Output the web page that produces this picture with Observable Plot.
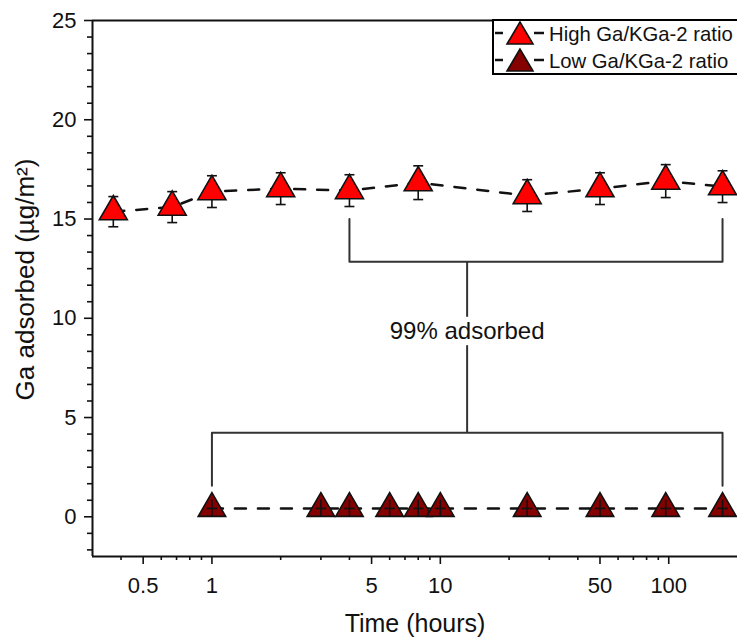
<!DOCTYPE html>
<html>
<head>
<meta charset="utf-8">
<script src="https://cdn.jsdelivr.net/npm/d3@7"></script>
<script src="https://cdn.jsdelivr.net/npm/@observablehq/plot@0.6"></script>
<style>
  html, body { margin: 0; padding: 0; background: #fff; overflow: hidden; }
  #wrap { position: relative; width: 737px; height: 641px; overflow: hidden; }
  #legend { position: absolute; left: 492px; top: 19px; width: 270px; height: 56px;
            border: 2px solid #000; box-sizing: border-box; background: #fff; overflow: hidden; }
  #legend svg { position: absolute; left: 0; top: 0; }
</style>
</head>
<body>
<div id="wrap"><div id="chart"></div><div id="legend"></div></div>
<script>
// ---- data ----
const highTime = [0.37, 0.67, 1, 2, 4, 8, 24, 50, 97, 172];
const highGa   = [15.37, 15.6, 16.38, 16.53, 16.43, 16.83, 16.18, 16.53, 16.91, 16.63];
const highErr  = [0.76, 0.78, 0.8, 0.8, 0.8, 0.85, 0.8, 0.8, 0.83, 0.8];

const lowTime = [1, 3, 4, 6, 8, 10, 24, 50, 97, 172];
const lowGa   = [0.42, 0.42, 0.42, 0.42, 0.42, 0.42, 0.42, 0.42, 0.42, 0.42];
const lowErr  = [0.42, 0.42, 0.42, 0.42, 0.42, 0.42, 0.42, 0.42, 0.42, 0.42];

const seriesNames = ["High Ga/KGa-2 ratio", "Low Ga/KGa-2 ratio"];
const seriesFill = ["#ff0000", "#850000"];

const xTicks = [0.5, 1, 5, 10, 50, 100];
const xMinorTicks = [0.4, 0.6, 0.7, 0.8, 0.9, 2, 3, 4, 6, 7, 8, 9, 20, 30, 40, 60, 70, 80, 90];
const yTicks = [0, 5, 10, 15, 20, 25];
const yMinorTicks = d3.range(-2, 30).filter(i => i % 6 !== 0).map(i => i * 5 / 6);
const xDomain = [0.3, 200];
const yDomain = [-2, 25];
const xTitle = "Time (hours)";
const yTitle = "Ga adsorbed (µg/m²)";

// annotation brackets (data units)
const bracketUpperX = [4, 4, 172, 172];
const bracketUpperY = [15.0, 12.85, 12.85, 15.0];
const bracketLowerX = [1, 1, 172, 172];
const bracketLowerY = [1.56, 4.23, 4.23, 1.56];
const stemX = 13.1;
const stemY = [[12.85, 10.05], [8.62, 4.23]];
const annotationText = "99% adsorbed";
const annotationY = 9.32;

// ---- tables ----
const high = highTime.map((t, i) => ({t, v: highGa[i], e: highErr[i]}));
const low = lowTime.map((t, i) => ({t, v: lowGa[i], e: lowErr[i]}));
const upper = bracketUpperX.map((x, i) => ({x, y: bracketUpperY[i]}));
const lower = bracketLowerX.map((x, i) => ({x, y: bracketLowerY[i]}));
const stems = stemY.map(([a, b]) => ({x: stemX, y1: a, y2: b}));

const capSymbol = {draw(ctx, size) { const w = Math.sqrt(size); ctx.moveTo(-w / 2, 0); ctx.lineTo(w / 2, 0); }};
const font = "'Liberation Sans', Arial, sans-serif";

const plot = Plot.plot({
  width: 737, height: 641,
  marginLeft: 92, marginRight: 0, marginTop: 20, marginBottom: 85,
  style: {fontFamily: font, fontSize: "22px", color: "#111", background: "#fff"},
  x: {type: "log", domain: xDomain},
  y: {domain: yDomain},
  marks: [
    // brackets
    Plot.line(upper, {x: "x", y: "y", stroke: "#333", strokeWidth: 2}),
    Plot.line(lower, {x: "x", y: "y", stroke: "#333", strokeWidth: 2}),
    Plot.ruleX(stems, {x: "x", y1: "y1", y2: "y2", stroke: "#333", strokeWidth: 2}),
    Plot.text([annotationText], {x: stemX, y: annotationY, text: d => d, fontSize: 24, fill: "#111", lineAnchor: "middle"}),
    // dashed connecting lines
    Plot.line(high, {x: "t", y: "v", stroke: "#111", strokeWidth: 2.5, strokeDasharray: "11,12"}),
    Plot.line(low, {x: "t", y: "v", stroke: "#111", strokeWidth: 2.5, strokeDasharray: "11,12"}),
    // high error bars
    Plot.ruleX(high, {x: "t", y1: d => d.v - d.e, y2: d => d.v + d.e, stroke: "#111", strokeWidth: 1.6}),
    Plot.dot(high, {x: "t", y: "v", symbol: "triangle", r: 10.4, fill: seriesFill[0], stroke: "#111", strokeWidth: 1.6}),
    Plot.dot(high, {x: "t", y: d => d.v - d.e, symbol: capSymbol, r: 5.6, fill: "none", stroke: "#111", strokeWidth: 1.6}),
    Plot.dot(high, {x: "t", y: d => d.v + d.e, symbol: capSymbol, r: 5.6, fill: "none", stroke: "#111", strokeWidth: 1.6}),
    // low series
    Plot.dot(low, {x: "t", y: "v", symbol: "triangle", r: 10.2, fill: seriesFill[1], stroke: "#111", strokeWidth: 1.6}),
    Plot.ruleX(low, {x: "t", y1: d => d.v - d.e, y2: d => d.v + d.e, stroke: "#111", strokeWidth: 1.6}),
    Plot.dot(low, {x: "t", y: "v", symbol: capSymbol, r: 6, fill: "none", stroke: "#111", strokeWidth: 1.6}),
    // axes
    Plot.axisX({ticks: xMinorTicks, tickSize: 4, tickFormat: () => "", label: null, strokeWidth: 1.6}),
    Plot.axisX({ticks: xTicks, tickSize: 8, tickFormat: () => "", label: null, strokeWidth: 1.6}),
    Plot.text(xTicks, {x: d => d, frameAnchor: "bottom", text: d => String(d), dy: 21, lineAnchor: "top", textAnchor: "middle", fontSize: 22, fill: "#111"}),
    Plot.axisY({ticks: yMinorTicks, tickSize: 5, tickFormat: () => "", label: null, strokeWidth: 1.6}),
    Plot.axisY({ticks: yTicks, tickSize: 8, tickPadding: 8, tickFormat: d => String(d), label: null, strokeWidth: 1.6, fontSize: 22}),
    Plot.ruleX([xDomain[0]], {stroke: "#111", strokeWidth: 2}),
    Plot.ruleY([yDomain[0]], {stroke: "#111", strokeWidth: 2}),
    Plot.ruleY([yDomain[1]], {stroke: "#111", strokeWidth: 2}),
    // axis titles
    Plot.text([xTitle], {frameAnchor: "bottom", text: d => d, dy: 67, fontSize: 25, lineAnchor: "middle", textAnchor: "middle", fill: "#111"}),
    Plot.text([yTitle], {frameAnchor: "left", text: d => d, rotate: -90, dx: -67, dy: -9, fontSize: 26, lineAnchor: "middle", textAnchor: "middle", fill: "#111"})
  ]
});
document.getElementById("chart").appendChild(plot);

// ---- legend ----
const ns = "http://www.w3.org/2000/svg";
const lg = document.createElementNS(ns, "svg");
lg.setAttribute("width", 270); lg.setAttribute("height", 52);
lg.style.fontFamily = font;
const rowsY = [12, 39];
seriesNames.forEach((name, i) => {
  const y = rowsY[i];
  [[1, 9], [40, 50]].forEach(([a, b]) => {
    const l = document.createElementNS(ns, "line");
    l.setAttribute("x1", a); l.setAttribute("x2", b); l.setAttribute("y1", y); l.setAttribute("y2", y);
    l.setAttribute("stroke", "#111"); l.setAttribute("stroke-width", 2.5);
    lg.appendChild(l);
  });
  const p = document.createElementNS(ns, "polygon");
  p.setAttribute("points", `26,${y - 11} 13,${y + 11} 39,${y + 11}`);
  p.setAttribute("fill", seriesFill[i]); p.setAttribute("stroke", "#111"); p.setAttribute("stroke-width", 1.6);
  lg.appendChild(p);
  const t = document.createElementNS(ns, "text");
  t.setAttribute("x", 55); t.setAttribute("y", y + 7.5);
  t.setAttribute("font-size", 20.3); t.setAttribute("fill", "#111");
  t.textContent = name;
  lg.appendChild(t);
});
document.getElementById("legend").appendChild(lg);
</script>
</body>
</html>
